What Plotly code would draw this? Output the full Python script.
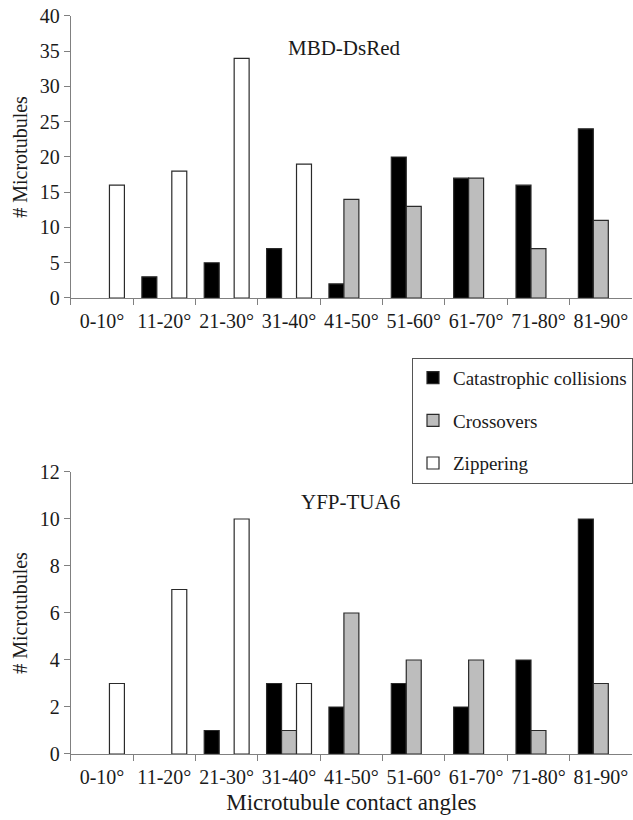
import plotly.graph_objects as go

angles = ["0-10°", "11-20°", "21-30°", "31-40°", "41-50°",
          "51-60°", "61-70°", "71-80°", "81-90°"]

# MBD-DsRed panel
mbd_catastrophic = [0, 3, 5, 7, 2, 20, 17, 16, 24]
mbd_crossovers = [0, 0, 0, 0, 14, 13, 17, 7, 11]
mbd_zippering = [16, 18, 34, 19, 0, 0, 0, 0, 0]

# YFP-TUA6 panel
yfp_catastrophic = [0, 0, 1, 3, 2, 3, 2, 4, 10]
yfp_crossovers = [0, 0, 0, 1, 6, 4, 4, 1, 3]
yfp_zippering = [3, 7, 10, 3, 0, 0, 0, 0, 0]

series_names = ["Catastrophic collisions", "Crossovers", "Zippering"]
colors = ["#000000", "#bdbdbd", "#ffffff"]

FONT = "Liberation Serif"
TXT = "#1a1a1a"


def blank_zero(vals):
    # empty categories are drawn as no bar at all
    return [v if v else None for v in vals]


fig = go.Figure()

panels = [
    ([mbd_catastrophic, mbd_crossovers, mbd_zippering], "x", "y"),
    ([yfp_catastrophic, yfp_crossovers, yfp_zippering], "x2", "y2"),
]
for p, (series, xa, ya) in enumerate(panels):
    for name, vals, col in zip(series_names, series, colors):
        fig.add_trace(go.Bar(
            x=angles, y=blank_zero(vals), name=name,
            marker=dict(color=col, line=dict(color="#2a2a2a", width=1.2)),
            xaxis=xa, yaxis=ya, legendgroup=name,
            showlegend=(p == 0),
        ))

axis_common = dict(
    showgrid=False, zeroline=False, showline=True, linecolor="#808080",
    linewidth=1, ticks="outside", tickcolor="#808080", ticklen=6,
    tickfont=dict(family=FONT, size=20, color=TXT), automargin=False,
)
x_common = dict(axis_common, tickangle=0, tickson="boundaries",
                ticklabelstandoff=5,
                categoryorder="array", categoryarray=angles)
ytitle_font = dict(family=FONT, size=20, color=TXT)
xtitle_font = dict(family=FONT, size=23, color=TXT)
label_font = dict(family=FONT, size=21, color=TXT)

fig.update_layout(
    width=633, height=820,
    margin=dict(l=0, r=0, t=0, b=0),
    plot_bgcolor="white", paper_bgcolor="white",
    barmode="group", bargap=0.28, bargroupgap=0,
    font=dict(family=FONT, size=20, color=TXT),
    xaxis=dict(x_common, domain=[0.112, 1], anchor="y"),
    yaxis=dict(axis_common, domain=[0.6366, 0.9805], anchor="x",
               range=[0, 40], dtick=5,
               title=dict(text="# Microtubules", standoff=6, font=ytitle_font)),
    xaxis2=dict(x_common, domain=[0.112, 1], anchor="y2",
                title=dict(text="Microtubule contact angles", standoff=6,
                           font=xtitle_font)),
    yaxis2=dict(axis_common, domain=[0.0805, 0.4244], anchor="x2",
                range=[0, 12], dtick=2,
                title=dict(text="# Microtubules", standoff=6, font=ytitle_font)),
    legend=dict(x=0.652, y=0.5637, xanchor="left", yanchor="top",
                bordercolor="#555", borderwidth=1, bgcolor="white",
                tracegroupgap=15, font=dict(family=FONT, size=19, color=TXT)),
    annotations=[
        dict(text="MBD-DsRed", x=0.545, y=0.958, xref="paper", yref="paper",
             showarrow=False, font=label_font),
        dict(text="YFP-TUA6", x=0.555, y=0.388, xref="paper", yref="paper",
             showarrow=False, font=label_font),
    ],
)

# drop the browser's default body margin so the figure sits at the page corner
fig.write_html("out.html", config={"displayModeBar": False},
               post_script="document.body.style.margin='0';")
